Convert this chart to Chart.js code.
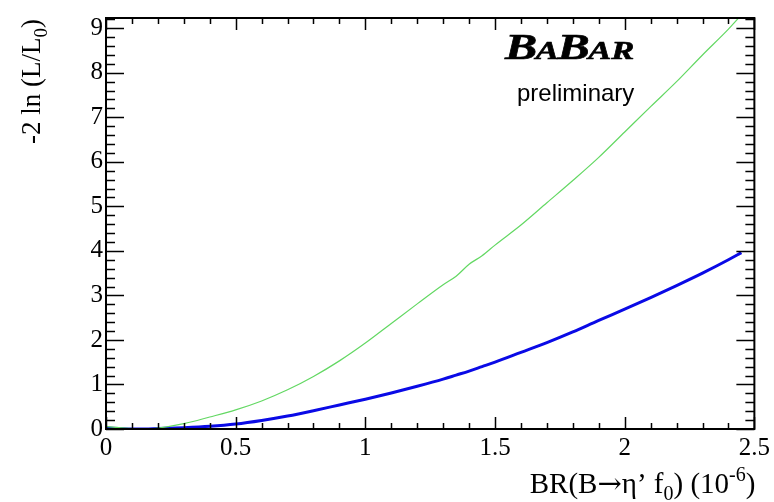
<!DOCTYPE html>
<html><head><meta charset="utf-8">
<script src="https://cdn.jsdelivr.net/npm/chart.js@4.4.0/dist/chart.umd.min.js"></script>
<style>html,body{margin:0;padding:0;background:#fff}#wrap{width:774px;height:502px}</style>
</head><body><div id="wrap"><canvas id="c" width="774" height="502"></canvas></div>
<script>
// BR values (10^-6)
const brValues    = [0, 0.05, 0.1, 0.15, 0.2, 0.3, 0.4, 0.5, 0.6, 0.7, 0.8, 0.9, 1.0, 1.1, 1.2, 1.3, 1.35, 1.4, 1.45, 1.5, 1.6, 1.7, 1.8, 1.9, 2.0, 2.1, 2.2, 2.3, 2.4, 2.45];
// -2 ln(L/L0), thin green curve
const nllGreen    = [0.06, 0.03, 0.01, 0.0, 0.02, 0.12, 0.27, 0.43, 0.63, 0.88, 1.18, 1.53, 1.93, 2.37, 2.81, 3.24, 3.43, 3.70, 3.89, 4.13, 4.58, 5.08, 5.58, 6.10, 6.67, 7.24, 7.80, 8.40, 8.98, 9.30];
// -2 ln(L/L0), thick blue curve
const nllBlue     = [0.02, 0.01, 0.0, 0.0, 0.01, 0.03, 0.06, 0.11, 0.19, 0.29, 0.41, 0.54, 0.67, 0.81, 0.96, 1.12, 1.21, 1.30, 1.40, 1.50, 1.72, 1.94, 2.18, 2.44, 2.69, 2.95, 3.22, 3.50, 3.80, 3.96];
const xTickValues = [0, 0.5, 1, 1.5, 2, 2.5];
const yTickValues = [0, 1, 2, 3, 4, 5, 6, 7, 8, 9];
const xTitleParts = [["BR(B", "n"], ["\u2192", "arrow"], ["\u03B7\u2019 f", "n"], ["0", "sub"], [") (10", "n"], ["-6", "sup"], [")", "n"]];
const yTitleParts = [["-2 ln (L/L", "n"], ["0", "sub"], [")", "n"]];

const serif = '"Liberation Serif", "Times New Roman", serif';

function partFont(k, size) {
  if (k === 'arrow') return size + 'px "DejaVu Serif", serif';
  return (k === 'n' ? size : Math.round(size * 0.7)) + 'px ' + serif;
}
function richWidth(ctx, parts, size) {
  let w = 0;
  for (const [t, k] of parts) {
    ctx.font = partFont(k, size);
    w += ctx.measureText(t).width;
  }
  return w;
}
function drawRich(ctx, parts, x, y, size) {
  let cx = x;
  for (const [t, k] of parts) {
    ctx.font = partFont(k, size);
    let dy = 0;
    if (k === 'sub') dy = size * 0.25;
    if (k === 'sup') dy = -size * 0.42;
    ctx.fillText(t, cx, y + dy);
    cx += ctx.measureText(t).width;
  }
}

const framePlugin = {
  id: 'frame',
  afterDatasetsDraw(chart) {
    const {ctx, chartArea: a, scales: {x, y}} = chart;
    ctx.save();
    ctx.strokeStyle = '#000';
    ctx.lineWidth = 1.5;
    ctx.beginPath();
    for (let i = 0; i <= 25; i++) {
      const v = i / 10;
      const px = Math.round(x.getPixelForValue(v)) + 0.5;
      const len = (i % 5 === 0) ? 12 : 6;
      ctx.moveTo(px, a.bottom); ctx.lineTo(px, a.bottom - len);
      ctx.moveTo(px, a.top); ctx.lineTo(px, a.top + len);
    }
    for (let i = 0; i <= 46; i++) {
      const v = i / 5;
      if (v > y.max) break;
      const py = Math.round(y.getPixelForValue(v)) + 0.5;
      const len = (i % 5 === 0) ? 18 : 9;
      ctx.moveTo(a.left, py); ctx.lineTo(a.left + len, py);
      ctx.moveTo(a.right, py); ctx.lineTo(a.right - len, py);
    }
    ctx.stroke();
    ctx.lineWidth = 2;
    ctx.strokeRect(a.left, a.top, a.right - a.left, a.bottom - a.top);

    ctx.fillStyle = '#000';
    ctx.textBaseline = 'alphabetic';
    ctx.textAlign = 'left';
    const xs = 29;
    const xw = richWidth(ctx, xTitleParts, xs);
    drawRich(ctx, xTitleParts, a.right + 1 - xw, 493, xs);

    const ys = 27;
    const yw = richWidth(ctx, yTitleParts, ys);
    ctx.save();
    ctx.translate(40, a.top + 1);
    ctx.rotate(-Math.PI / 2);
    drawRich(ctx, yTitleParts, -yw, 0, ys);
    ctx.restore();

    // BaBar logo
    ctx.save();
    ctx.translate(505, 59);
    ctx.scale(1.38, 1);
    const big = 35, small = 25;
    let cx = 0;
    const logo = [["B", big], ["A", small], ["B", big], ["AR", small]];
    for (const [t, s] of logo) {
      ctx.font = 'italic bold ' + s + 'px ' + serif;
      ctx.fillText(t, cx, 0);
      ctx.strokeStyle = '#000';
      ctx.lineWidth = 0.6;
      ctx.strokeText(t, cx, 0);
      cx += ctx.measureText(t).width - 1;
    }
    ctx.restore();
    ctx.font = '24px "Liberation Sans", Arial, sans-serif';
    ctx.fillText('preliminary', 517, 101);
    ctx.restore();
  }
};

const ctx = document.getElementById('c').getContext('2d');
new Chart(ctx, {
  type: 'line',
  data: {
    datasets: [
      {
        data: brValues.map((b, i) => ({x: b, y: nllGreen[i]})),
        borderColor: '#63d863', borderWidth: 1.2, pointRadius: 0,
        cubicInterpolationMode: 'monotone', fill: false
      },
      {
        data: brValues.map((b, i) => ({x: b, y: nllBlue[i]})),
        borderColor: '#0a0ae6', borderWidth: 3, pointRadius: 0,
        cubicInterpolationMode: 'monotone', fill: false
      }
    ]
  },
  options: {
    responsive: false,
    devicePixelRatio: 1,
    animation: false,
    events: [],
    layout: {padding: {top: 11, right: 17, left: 0, bottom: 0}},
    plugins: {legend: {display: false}, tooltip: {enabled: false}},
    scales: {
      x: {
        type: 'linear', min: 0, max: 2.5,
        grid: {display: false, drawTicks: false},
        border: {display: false},
        afterBuildTicks: s => { s.ticks = xTickValues.map(v => ({value: v})); },
        afterFit: s => { s.height = 73; },
        ticks: {
          padding: 4, maxRotation: 0, autoSkip: false,
          color: '#000', font: {family: serif, size: 25},
          callback: v => String(v)
        }
      },
      y: {
        type: 'linear', min: 0, max: 9.23,
        grid: {display: false, drawTicks: false},
        border: {display: false},
        afterBuildTicks: s => { s.ticks = yTickValues.map(v => ({value: v})); },
        afterFit: s => { s.width = 106; },
        ticks: {
          padding: 3, autoSkip: false,
          color: '#000', font: {family: serif, size: 25},
          callback: v => String(v)
        }
      }
    }
  },
  plugins: [framePlugin]
});
</script>
</body></html>
